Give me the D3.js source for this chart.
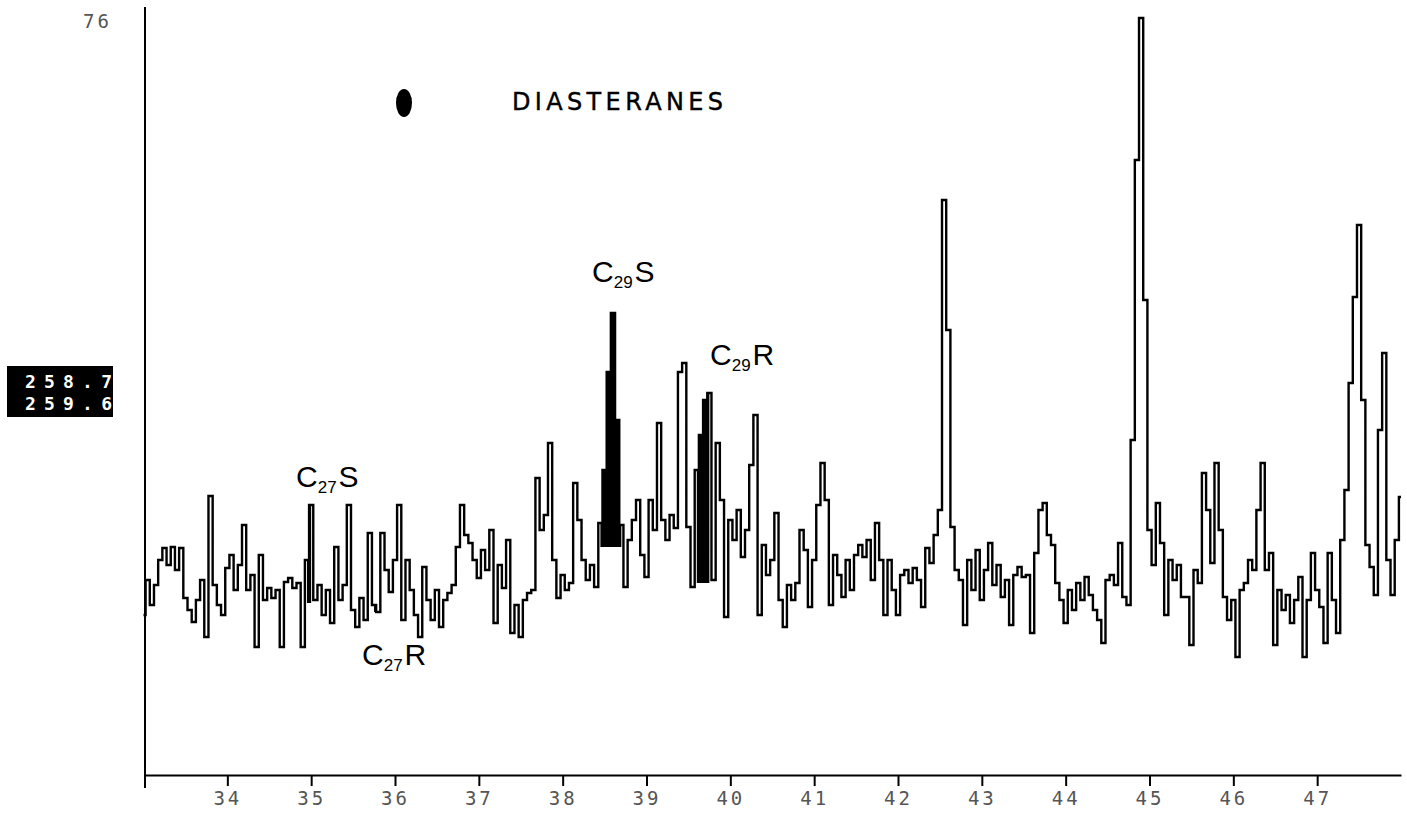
<!DOCTYPE html>
<html>
<head>
<meta charset="utf-8">
<script src="https://cdn.jsdelivr.net/npm/d3@7"></script>
<style>
    body { margin: 0; background: #fff; }
    #chart { width: 1407px; height: 814px; }
    .tick text { font-family: "DejaVu Sans Mono", monospace; font-size: 19px; fill: #555; letter-spacing: 3px; }
    .hand { font-family: "Liberation Sans", sans-serif; fill: #000; }
</style>
</head>
<body>
<div id="chart"></div>
<script>
// retention time (min) of first scan and scan spacing
var scanStart = 33.0;
var scanStep = 0.05;

// ion intensity, one value per scan (m/z 259)
var intensity = [
    16.0, 19.5, 17.0, 19.0, 21.5, 22.7, 21.0, 22.8, 20.5, 22.7,
    17.7, 16.5, 15.3, 17.5, 19.5, 13.8, 27.9, 19.0, 17.0, 16.0,
    20.7, 22.0, 18.5, 21.0, 25.0, 18.5, 20.0, 12.8, 22.0, 17.5,
    18.7, 17.7, 18.5, 12.8, 19.3, 19.7, 18.7, 19.2, 12.8, 21.5,
    27.0, 17.5, 19.0, 16.0, 18.5, 15.2, 22.8, 17.5, 19.0, 27.0,
    16.5, 14.8, 17.7, 15.5, 24.2, 17.0, 16.3, 24.2, 20.5, 18.3,
    21.5, 27.0, 15.5, 21.5, 18.5, 16.0, 13.8, 20.8, 17.5, 15.5,
    18.5, 14.8, 17.5, 18.2, 19.0, 22.8, 27.0, 24.0, 23.2, 21.5,
    19.7, 22.5, 20.5, 24.5, 15.2, 21.0, 18.7, 23.5, 14.2, 17.0,
    13.8, 17.5, 18.2, 18.5, 29.7, 24.5, 26.0, 33.2, 21.5, 17.7,
    20.0, 18.5, 19.2, 29.2, 25.5, 21.5, 19.5, 21.0, 18.8, 25.2,
    30.5, 40.3, 46.2, 35.5, 25.0, 18.8, 23.5, 25.5, 27.5, 22.0,
    19.8, 27.5, 24.5, 35.2, 25.5, 23.5, 26.0, 24.7, 40.3, 41.2,
    24.8, 18.8, 30.5, 34.0, 37.5, 38.2, 19.5, 33.2, 27.5, 15.8,
    25.5, 23.5, 26.5, 21.8, 24.5, 31.0, 36.0, 16.0, 23.0, 20.0,
    21.5, 26.2, 17.5, 14.8, 19.0, 17.5, 19.2, 24.5, 22.5, 16.8,
    21.5, 27.0, 31.2, 27.5, 17.0, 22.0, 20.0, 17.8, 21.5, 18.5,
    22.0, 23.0, 21.8, 23.5, 19.5, 25.2, 21.5, 16.0, 21.5, 18.5,
    16.0, 20.0, 20.5, 19.2, 20.7, 19.5, 16.8, 22.7, 21.2, 24.0,
    26.5, 57.5, 44.5, 24.8, 20.5, 19.5, 15.0, 21.5, 18.5, 22.5,
    17.5, 20.5, 23.2, 19.0, 21.0, 17.8, 19.5, 15.0, 20.0, 20.8,
    19.8, 20.0, 14.2, 22.2, 26.5, 27.2, 24.0, 23.0, 19.2, 17.5,
    15.2, 18.5, 16.5, 19.2, 17.5, 19.8, 18.0, 16.5, 15.5, 13.2,
    19.5, 20.0, 19.0, 23.2, 17.8, 17.0, 33.5, 61.5, 75.7, 47.5,
    24.5, 21.0, 27.2, 23.2, 16.0, 21.5, 19.5, 21.0, 17.8, 17.8,
    13.0, 20.5, 19.2, 30.2, 26.5, 21.2, 31.2, 24.5, 17.8, 15.5,
    17.5, 11.8, 18.5, 19.2, 21.5, 20.5, 26.5, 31.2, 20.5, 22.2,
    13.0, 18.5, 16.5, 18.0, 15.2, 17.5, 19.8, 11.8, 17.5, 22.2,
    18.5, 16.8, 13.2, 22.2, 17.5, 14.2, 23.5, 28.5, 39.2, 47.8,
    55.0, 37.5, 23.0, 20.8, 18.0, 34.5, 42.2, 21.5, 18.0, 23.5, 27.8
];

var timeTicks = [34, 35, 36, 37, 38, 39, 40, 41, 42, 43, 44, 45, 46, 47];
var maxIntensity = 76;
var massLabels = ["258.7", "259.6"];
var title = "DIASTERANES";

// shaded (integrated) diasterane peaks
var peakNames = ["C27S", "C27R", "C29S", "C29R"];
var peakStart = [34.93, 35.73, 38.43, 39.58];
var peakEnd   = [35.02, 35.82, 38.72, 39.77];
var peakBase  = [17.2, 16.3, 22.8, 19.2];

var width = 1407;
var height = 814;

var svg = d3.select("#chart")
    .append("svg")
    .attr("width", width)
    .attr("height", height);

var xScale = d3.scaleLinear()
    .domain([33, 48])
    .range([143.5, 1401]);

var yScale = d3.scaleLinear()
    .domain([0, maxIntensity])
    .range([775, 15]);

var scans = intensity.map(function(v, i) {
    return { t: scanStart + i * scanStep, v: v };
});

/*
AXES
*/
var xAxis = svg.append("g")
    .attr("class", "axis")
    .attr("transform", "translate(0,775)")
    .call(d3.axisBottom(xScale)
        .tickValues(timeTicks)
        .tickSize(11)
        .tickSizeOuter(0)
        .tickPadding(6)
        .tickFormat(d3.format("d")));

xAxis.select(".domain").attr("stroke", "#000").attr("stroke-width", 2);
xAxis.selectAll(".tick line").attr("stroke", "#000").attr("stroke-width", 2);

svg.append("line")
    .attr("x1", 145).attr("x2", 145)
    .attr("y1", 7).attr("y2", 788)
    .attr("stroke", "#000")
    .attr("stroke-width", 2);

svg.append("text")
    .attr("x", 112)
    .attr("y", 28)
    .attr("text-anchor", "end")
    .style("font-family", "'DejaVu Sans Mono', monospace")
    .style("font-size", "19px")
    .style("letter-spacing", "3px")
    .attr("fill", "#555")
    .text(maxIntensity);

// mass range box
svg.append("rect")
    .attr("x", 7).attr("y", 366)
    .attr("width", 106).attr("height", 51)
    .attr("fill", "#000");

svg.selectAll(".mass")
    .data(massLabels)
    .enter()
    .append("text")
    .attr("class", "mass")
    .attr("x", 25)
    .attr("y", function(d, i) { return 388 + i * 22; })
    .attr("textLength", 87)
    .attr("lengthAdjust", "spacing")
    .attr("fill", "#fff")
    .style("font-family", "'DejaVu Sans Mono', monospace")
    .style("font-weight", "bold")
    .style("font-size", "18px")
    .text(function(d) { return d; });

/*
TITLE
*/
svg.append("ellipse")
    .attr("cx", 404).attr("cy", 103)
    .attr("rx", 8).attr("ry", 14)
    .attr("fill", "#000");

svg.append("text")
    .attr("x", 512)
    .attr("y", 110)
    .attr("textLength", 211)
    .attr("lengthAdjust", "spacing")
    .style("font-family", "'DejaVu Sans', sans-serif")
    .style("font-size", "24px")
    .attr("fill", "#000")
    .attr("stroke", "#000")
    .attr("stroke-width", 0.4)
    .text(title);

/*
SHADED PEAKS
*/
peakNames.forEach(function(name, k) {
    var pts = scans.filter(function(d) {
        return d.t >= peakStart[k] - 1e-9 && d.t <= peakEnd[k] + 1e-9;
    });
    var area = d3.area()
        .curve(d3.curveStep)
        .x(function(d) { return xScale(d.t); })
        .y0(yScale(peakBase[k]))
        .y1(function(d) { return yScale(Math.max(d.v, peakBase[k])); });
    svg.append("path")
        .datum(pts)
        .attr("d", area)
        .attr("fill", "#000");
});

/*
TRACE
*/
var line = d3.line()
    .curve(d3.curveStep)
    .x(function(d) { return xScale(d.t); })
    .y(function(d) { return yScale(d.v); });

svg.append("path")
    .datum(scans)
    .attr("d", line)
    .attr("fill", "none")
    .attr("stroke", "#000")
    .attr("stroke-width", 2.4)
    .attr("stroke-linejoin", "miter");

/*
HAND LABELS
*/
var handX = [296, 362, 592, 710];
var handY = [487, 665, 282, 365];
var handSub = ["27", "27", "29", "29"];
var handIso = ["S", "R", "S", "R"];

peakNames.forEach(function(name, k) {
    var t = svg.append("text")
        .attr("class", "hand")
        .attr("x", handX[k])
        .attr("y", handY[k])
        .style("font-size", "30px");
    t.append("tspan").text("C");
    t.append("tspan")
        .attr("dy", 6)
        .style("font-size", "17px")
        .text(handSub[k]);
    t.append("tspan")
        .attr("dy", -6)
        .attr("dx", 2)
        .text(handIso[k]);
});
</script>
</body>
</html>
